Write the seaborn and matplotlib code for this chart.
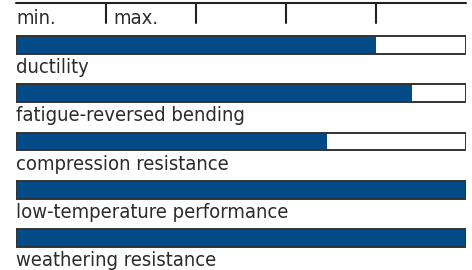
import numpy as np
import pandas as pd
import matplotlib
matplotlib.use('Agg')
import matplotlib.pyplot as plt
import seaborn as sns

# Data
properties = ['ductility', 'fatigue-reversed bending', 'compression resistance',
              'low-temperature performance', 'weathering resistance']
ratings = [4.0, 4.4, 3.45, 5.0, 5.0]
scale_max = 5
scale_labels = ['min.', 'max.']

df = pd.DataFrame({'property': properties, 'rating': ratings,
                   'full': [scale_max] * len(properties)})

sns.set_style('white')
plt.rcParams['font.family'] = ['DejaVu Sans']
plt.rcParams['font.stretch'] = 'condensed'

fig = plt.figure(figsize=(4.72, 2.70), dpi=100)
ax = fig.add_axes([16 / 472, 0, 450 / 472, 1])

blue = '#024b87'
edge = '#333333'
txt_col = '#2b2b2b'
bar_h = 0.37
fs = 14.5

# filled bars, then the outline boxes on top
sns.barplot(data=df, y='property', x='rating', orient='h', color=blue,
            width=bar_h, saturation=1, linewidth=0, ax=ax)
sns.barplot(data=df, y='property', x='full', orient='h', color=edge,
            width=bar_h, fill=False, linewidth=1.4, ax=ax)

# property names under each bar
for i, name in enumerate(properties):
    ax.text(0, i + 0.585, name, ha='left', va='baseline',
            fontsize=fs, color=txt_col, fontstretch='condensed')

# scale on top
top = -0.87
ax.plot([0, scale_max], [top, top], color='#222222', lw=1.5, clip_on=False)
for t in range(1, scale_max):
    ax.plot([t, t], [top, -0.455], color='#222222', lw=1.5, clip_on=False)
ax.text(0, -0.435, scale_labels[0], ha='left', va='baseline', fontsize=fs,
        color=txt_col, fontstretch='condensed')
ax.text(1.08, -0.435, scale_labels[1], ha='left', va='baseline', fontsize=fs,
        color=txt_col, fontstretch='condensed')

ax.set_xlim(0, scale_max)
ax.set_ylim(4.66, -0.93)
ax.set_xlabel('')
ax.set_ylabel('')
ax.set_xticks([])
ax.set_yticks([])
sns.despine(ax=ax, left=True, bottom=True)

fig.savefig('out.png', dpi=100)
